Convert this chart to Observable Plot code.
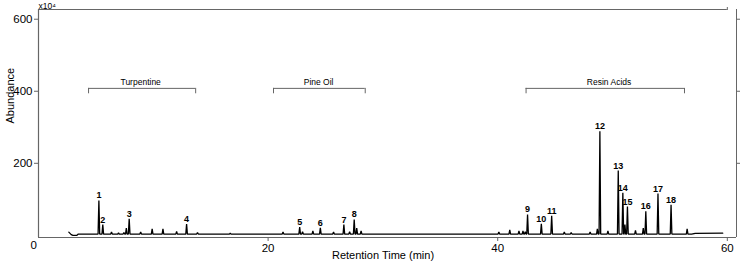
<!DOCTYPE html>
<html><head><meta charset="utf-8">
<script src="https://cdn.jsdelivr.net/npm/d3@7"></script>
<script src="https://cdn.jsdelivr.net/npm/@observablehq/plot@0.6"></script>
<style>body{margin:0;background:#fff} svg{font-family:"Liberation Sans",Arial,sans-serif}</style>
</head><body><div id="chart"></div>
<script>
// Labelled peaks
const peakLabels  = ["1","2","3","4","5","6","7","8","9","10","11","12","13","14","15","16","17","18"];
const peakTimes   = [5.26,5.6,7.9,12.9,22.75,24.55,26.6,27.5,42.6,43.8,44.7,48.9,50.5,50.9,51.3,52.9,53.96,55.1];
const peakHeights = [97,30,46,31,23,21,30,44,58,32,54,289,180,118,80,67,116,85];
// Unlabelled minor peaks
const minorTimes   = [6.36,6.97,7.44,7.65,8.9,9.9,10.84,12.03,13.85,16.7,21.3,23.0,23.9,25.7,27.1,27.72,28.1,40.1,41.05,41.85,42.2,42.4,45.8,46.4,48.05,48.68,49.6,51.08,52.0,52.68,56.5];
const minorHeights = [9,7,8,20,9,18,18,11,8,6,9,10,12,9,10,20,12,9,15,12,12,10,9,8,9,18,12,30,14,20,18];
// Baseline vertices
const baselineTimes  = [2.64,2.85,3.0,3.35,3.47,56.9,57.2,59.6];
const baselineValues = [9,2,0,0,3.5,3.5,5.5,6];
const baseLevel = 3.5;
// Compound class brackets
const groupNames = ["Turpentine","Pine Oil","Resin Acids"];
const groupStart = [4.36,20.47,42.47];
const groupEnd   = [13.69,28.46,56.27];
const groupLabelTimes = [8.9,24.4,49.7];
const bracketLevel = 408, bracketEnd = 393;
// Axis ticks
const xTicks = [20,40,60];
const yTicks = [200,400,600];

const hw = 0.07;
const pts = baselineTimes.map((t,i)=>({t, v: baselineValues[i]}));
const allPeaks = peakTimes.map((t,i)=>[t,peakHeights[i]]).concat(minorTimes.map((t,i)=>[t,minorHeights[i]]));
allPeaks.forEach(([t,h])=>{ pts.push({t:t-hw, v:baseLevel},{t, v:h},{t:t+hw, v:baseLevel}); });
pts.sort((a,b)=>a.t-b.t);

const peaks = peakTimes.map((t,i)=>({t, h:peakHeights[i], label:peakLabels[i]}));
const groups = groupNames.map((n,i)=>({name:n, x1:groupStart[i], x2:groupEnd[i], lx:groupLabelTimes[i]}));
const ends = groups.flatMap(g=>[g.x1,g.x2]);

const axisColor = "#666";
const chart = Plot.plot({
  width: 740, height: 264,
  marginLeft: 38, marginRight: 4, marginTop: 9, marginBottom: 27,
  style: {fontFamily: '"Liberation Sans", Arial, sans-serif', background: "#fff"},
  x: {domain: [0, 60.8]},
  y: {domain: [-6, 627]},
  marks: [
    Plot.ruleY([-6], {stroke: axisColor, strokeWidth: 1.2}),
    Plot.ruleX([0], {stroke: axisColor, strokeWidth: 1.2}),
    Plot.ruleX([60.8], {stroke: axisColor, strokeWidth: 1}),
    Plot.ruleY([627], {x1: 0, x2: 60, stroke: axisColor, strokeWidth: 1}),
    Plot.axisX({ticks: xTicks, tickSize: 4, tickPadding: 2, fontSize: 11.5, label: null, stroke: axisColor, color: "#000"}),
    Plot.axisX({anchor: "top", ticks: [60], tickSize: 3, tickFormat: () => "", label: null, stroke: axisColor}),
    Plot.axisY({ticks: yTicks, tickSize: 4, tickPadding: 2, fontSize: 11.5, label: null, stroke: axisColor, color: "#000"}),
    Plot.axisY({anchor: "right", ticks: yTicks, tickSize: 4, tickFormat: () => "", label: null, stroke: axisColor}),
    Plot.text(["0"], {frameAnchor: "bottom-left", dx: -8, dy: 11, fontSize: 11.5, fill: "#000"}),
    Plot.text(["x10\u2074"], {frameAnchor: "top-left", textAnchor: "start", lineAnchor: "bottom", dy: -1, fontSize: 8.5, fill: "#000"}),
    Plot.text(["Abundance"], {frameAnchor: "left", rotate: -90, dx: -28, fontSize: 11, fill: "#000"}),
    Plot.text(["Retention Time (min)"], {frameAnchor: "bottom", dx: -4.5, dy: 21, fontSize: 11, fill: "#000"}),
    // brackets
    Plot.ruleY(groups, {y: () => bracketLevel, x1: "x1", x2: "x2", stroke: axisColor, strokeWidth: 1}),
    Plot.ruleX(ends, {x: d => d, y1: bracketEnd, y2: bracketLevel, stroke: axisColor, strokeWidth: 1}),
    Plot.text(groups, {x: "lx", y: () => bracketLevel, text: "name", lineAnchor: "bottom", dy: -3, fontSize: 8.5, fill: "#000"}),
    // trace
    Plot.line(pts, {x: "t", y: "v", stroke: "#000", strokeWidth: 1.3, strokeLinejoin: "miter"}),
    Plot.text(peaks, {x: "t", y: "h", text: "label", lineAnchor: "bottom", dy: -2, fontSize: 9, fontWeight: "bold", fill: "#000"})
  ]
});
document.getElementById("chart").appendChild(chart);
</script></body></html>
